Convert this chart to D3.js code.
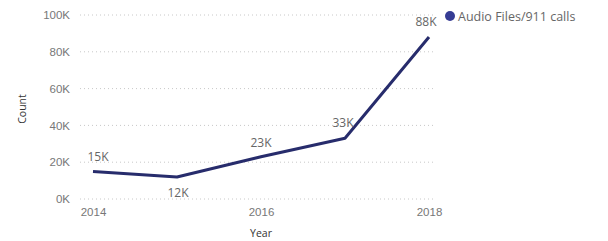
<!DOCTYPE html>
<html>
<head>
<meta charset="utf-8">
<script src="https://cdn.jsdelivr.net/npm/d3@7"></script>
<style>
  body { margin: 0; background: #fff; }
  svg { display: block; font-family: "Open Sans", "Segoe UI", sans-serif; }
  .tick text { fill: #777; font-size: 11.5px; }
  .lbl { fill: #666; font-size: 12px; }
</style>
</head>
<body>
<svg id="chart" width="608" height="241"></svg>
<script>
let years = [2014, 2015, 2016, 2017, 2018]
let counts = [15000, 12000, 23000, 33000, 88000]
let yTicks = [0, 20000, 40000, 60000, 80000, 100000]
let xTicks = [2014, 2016, 2018]
let seriesName = 'Audio Files/911 calls'

let svg = d3.select('#chart')
let margin = {left: 80, top: 14, right: 176, bottom: 42}

let xScale = d3.scaleLinear()
	.domain([2014, 2018])
	.range([93, 429])

let yScale = d3.scaleLinear()
	.domain([0, 100000])
	.range([199, 15])

// gridlines
svg.append('g').selectAll('line').data(yTicks).enter().append('line')
	.attr('x1', margin.left)
	.attr('x2', 434)
	.attr('y1', d => yScale(d))
	.attr('y2', d => yScale(d))
	.attr('stroke', '#c8c8c8')
	.attr('stroke-width', 1)
	.attr('stroke-dasharray', '1,3')

let axisY = d3.axisLeft(yScale)
	.tickValues(yTicks)
	.tickSize(0)
	.tickPadding(10)
	.tickFormat(d => (d / 1000) + 'K')

svg.append('g')
	.attr('transform', `translate(${margin.left},0)`)
	.call(axisY)
	.call(g => g.select('.domain').remove())

let axisX = d3.axisBottom(xScale)
	.tickValues(xTicks)
	.tickSize(0)
	.tickPadding(9)
	.tickFormat(d3.format('d'))

svg.append('g')
	.attr('transform', `translate(0,${yScale(0)})`)
	.call(axisX)
	.call(g => g.select('.domain').remove())

svg.append('text')
	.attr('transform', `translate(26,${yScale(50000) + 2}) rotate(-90)`)
	.attr('text-anchor', 'middle')
	.style('font-size', '10.5px')
	.attr('fill', '#333')
	.text('Count')

svg.append('text')
	.attr('x', xScale(2016))
	.attr('y', 237)
	.attr('text-anchor', 'middle')
	.style('font-size', '10.5px')
	.attr('fill', '#333')
	.text('Year')

let lineGen = d3.line()
	.x((d, i) => xScale(years[i]))
	.y(d => yScale(d))

svg.append('path')
	.datum(counts)
	.attr('d', lineGen)
	.attr('fill', 'none')
	.attr('stroke', '#272c6c')
	.attr('stroke-width', 3)
	.attr('stroke-linejoin', 'round')

// data labels
let labelDy = [-10, 20, -10, -11, -11]
let labelDx = [5, 1, 0, -2, -3]
svg.append('g').selectAll('text').data(counts).enter().append('text')
	.attr('class', 'lbl')
	.attr('x', (d, i) => xScale(years[i]) + labelDx[i])
	.attr('y', (d, i) => yScale(d) + labelDy[i])
	.attr('text-anchor', 'middle')
	.text(d => Math.round(d / 1000) + 'K')

// legend
let leg = svg.append('g').attr('transform', 'translate(450,16)')
leg.append('circle').attr('r', 5).attr('fill', '#363c94')
leg.append('text')
	.attr('x', 8)
	.attr('y', 4.5)
	.attr('fill', '#666')
	.style('font-size', '12.5px')
	.text(seriesName)
</script>
</body>
</html>
